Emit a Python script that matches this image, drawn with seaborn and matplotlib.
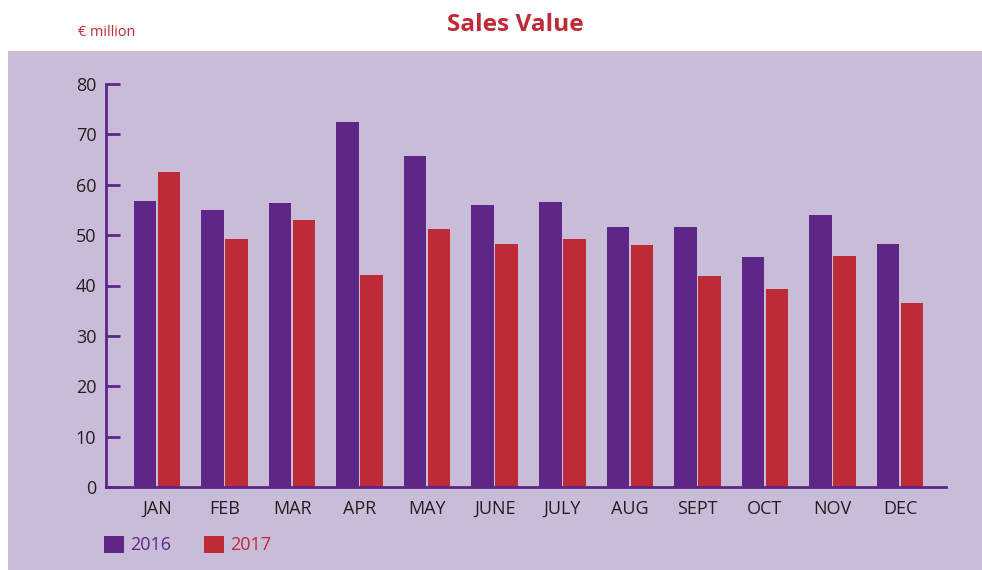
import pandas as pd
import matplotlib.pyplot as plt
import seaborn as sns
from matplotlib.patches import Rectangle

# Data (EUR million)
months = ["JAN", "FEB", "MAR", "APR", "MAY", "JUNE", "JULY", "AUG", "SEPT", "OCT", "NOV", "DEC"]
sales_2016 = [56.7, 55.0, 56.3, 72.4, 65.7, 56.0, 56.5, 51.6, 51.6, 45.6, 54.0, 48.2]
sales_2017 = [62.5, 49.2, 53.0, 42.1, 51.2, 48.2, 49.2, 48.0, 41.9, 39.3, 45.8, 36.5]
years = ["2016", "2017"]

purple = "#5e2787"
red = "#be2a36"
lavender = "#c9bcd9"
dark = "#231f20"

df = pd.DataFrame({"Month": months * 2,
                   "Year": [years[0]] * 12 + [years[1]] * 12,
                   "Value": sales_2016 + sales_2017})

sns.set_style("white")
plt.rcParams['font.family'] = ['Open Sans', 'DejaVu Sans']

fig = plt.figure(figsize=(9.82, 5.70), dpi=100)
fig.patches.append(Rectangle((8 / 982, 0), 1, (570 - 51) / 570, transform=fig.transFigure,
                             facecolor=lavender, edgecolor="none", zorder=-10))

ax = fig.add_axes([106 / 982, 83 / 570, 840 / 982, 403 / 570])
ax.set_facecolor("none")
ax.set_zorder(5)

sns.barplot(data=df, x="Month", y="Value", hue="Year", order=months, hue_order=years,
            palette=[purple, red], width=0.71, gap=0.06, saturation=1, ax=ax, legend=False,
            edgecolor="none", linewidth=0)

ax.set_ylim(0, 80)
ax.set_xlim(-0.755, 11.68)
ax.set_yticks(range(0, 81, 10))
ax.set_xlabel("")
ax.set_ylabel("")

for s in ["top", "right"]:
    ax.spines[s].set_visible(False)
for s in ["left", "bottom"]:
    ax.spines[s].set_color(purple)
    ax.spines[s].set_linewidth(2)

ax.tick_params(axis="y", left=True, direction="in", length=10, width=2, color=purple,
               labelsize=13, labelcolor=dark, pad=7)
ax.tick_params(axis="x", bottom=False, length=0, labelsize=13, labelcolor=dark, pad=9)

fig.text(515 / 982, 1 - 25 / 570, "Sales Value", ha="center", va="center",
         fontsize=17.6, fontweight="bold", color=red)
fig.text(78 / 982, 1 - 32 / 570, "€ million", ha="left", va="center",
         fontsize=10.4, color=red)

# legend
handles = [Rectangle((0, 0), 1, 1, facecolor=c, edgecolor="none") for c in [purple, red]]
leg = fig.legend(handles, years, loc="center left", bbox_to_anchor=(88 / 982, 25 / 570),
                 ncol=2, frameon=False, fontsize=13, handlelength=1.1, handleheight=1.1,
                 handletextpad=0.35, columnspacing=1.8)
for t, c in zip(leg.get_texts(), [purple, red]):
    t.set_color(c)

fig.savefig("out.png", dpi=100)
